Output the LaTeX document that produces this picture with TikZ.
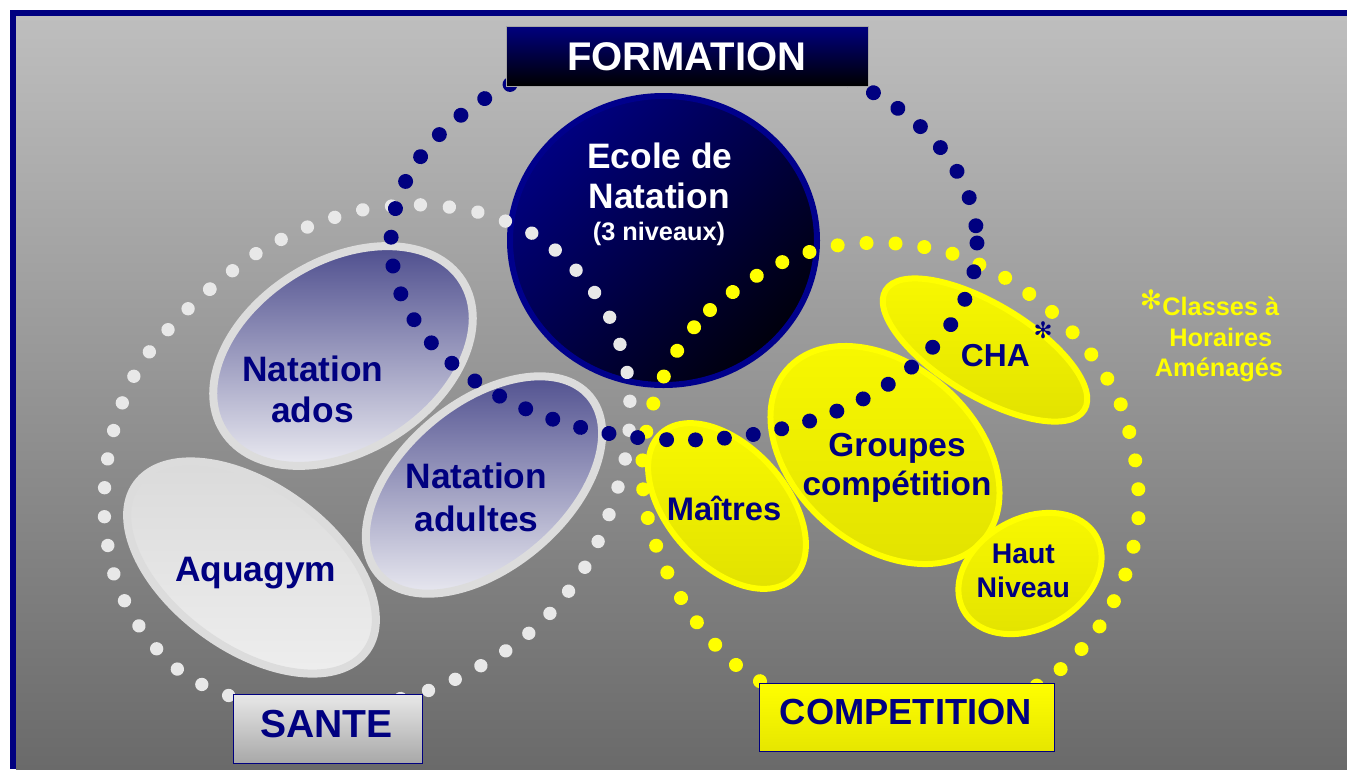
\documentclass[tikz,border=0pt]{standalone}
\usepackage{fontspec}
\setmainfont{Liberation Sans}
\newfontfamily\djv{DejaVu Sans}
\usetikzlibrary{decorations.markings}
\definecolor{navy}{HTML}{000080}
\definecolor{navyb}{HTML}{00008C}
\definecolor{bgtop}{HTML}{BEBEBE}
\definecolor{bgbot}{HTML}{6A6A6A}
\definecolor{wdot}{HTML}{E8E8E8}
\definecolor{ydot}{HTML}{FFFF00}
\definecolor{ytop}{HTML}{F8F800}
\definecolor{ybot}{HTML}{E2E200}
\definecolor{bluetop}{HTML}{48488A}
\definecolor{bluebot}{HTML}{F2F2F6}
\definecolor{ringc}{HTML}{DCDCDC}
\definecolor{aqtop}{HTML}{DADADA}
\definecolor{aqbot}{HTML}{EEEEEE}
\definecolor{santetop}{HTML}{E8E8E8}
\definecolor{santebot}{HTML}{A8A8A8}
\definecolor{compbot}{HTML}{E6E600}
\definecolor{circbot}{HTML}{00000C}
\tikzset{
  dotring/.style 2 args={decoration={markings,
      mark=between positions 0 and 1 step 21.75pt with {\fill[#1] (0,0) circle[radius=#2];}},
      decorate},
  fs/.style={font=\bfseries\fontsize{#1}{#1}\selectfont},
  lbl/.style={anchor=base, inner sep=0pt, text=navy},
  wlbl/.style={anchor=base, inner sep=0pt, text=white},
  ylbl/.style={anchor=base, inner sep=0pt, text=ydot},
  bluell/.style={draw=ringc, line width=6pt, top color=bluetop, bottom color=bluebot},
  aqell/.style={draw=ringc, line width=6pt, top color=aqtop, bottom color=aqbot},
  yell/.style={draw=ydot, line width=4.5pt, top color=ytop, bottom color=ybot},
}
\begin{document}
\begin{tikzpicture}[x=0.75pt,y=-0.75pt]
\useasboundingbox (0,0) rectangle (1347,769);
% background and frame
\fill[navy] (10,10) rectangle (1347,769);
\shade[top color=bgtop, bottom color=bgbot] (16,16) rectangle (1347,769);

% ellipses (SANTE group)
\begin{scope}[shift={(251.5,567.5)},rotate=-36]
  \path[aqell] (0,0) ellipse [x radius=142, y radius=81];
\end{scope}
\begin{scope}[shift={(343,356)},rotate=32]
  \path[bluell] (0,0) ellipse [x radius=141, y radius=95];
\end{scope}
\begin{scope}[shift={(484,485)},rotate=40]
  \path[bluell] (0,0) ellipse [x radius=138, y radius=82];
\end{scope}

% Ecole de Natation circle
\path[draw=navyb, line width=4.5pt, top color=navy, bottom color=circbot, shading angle=45]
  (663.5,240.5) ellipse [x radius=153.5, y radius=144.5];

% yellow ellipses (COMPETITION group)
\begin{scope}[shift={(727,506)},rotate=-48]
  \path[yell] (0,0) ellipse [x radius=98, y radius=59];
\end{scope}
\begin{scope}[shift={(885,455)},rotate=-41]
  \path[yell] (0,0) ellipse [x radius=130, y radius=90];
\end{scope}
\begin{scope}[shift={(985,350)},rotate=-31]
  \path[yell] (0,0) ellipse [x radius=116, y radius=46];
\end{scope}
\begin{scope}[shift={(1030,573.5)},rotate=29]
  \path[yell] (0,0) ellipse [x radius=76, y radius=55];
\end{scope}

% dotted rings
\path[dotring={wdot}{5pt}] plot[smooth cycle] coordinates {
 (175,322) (210,289) (257,253) (310,226) (367,209) (427,205) (485,214) (540,238)
 (585,280) (612,322) (627,372) (630,415) (625,460) (610,512) (588,562) (555,608)
 (510,648) (443,685) (380,703) (316,707) (250,702) (188,677) (146,636) (117,584)
 (105,525) (106,470) (118,415) (140,365)};
\path[dotring={ydot}{5.25pt}] plot[smooth cycle] coordinates {
 (674,356) (710,310) (770,268) (828,247) (888,243) (947,252) (1002,276) (1051,311)
 (1091,354) (1121,405) (1136,465) (1138,523) (1123,581) (1095,633) (1053,675)
 (990,708) (905,720) (820,708) (748,674) (705,633) (672,582) (650,527) (642,470)
 (651,411)};
\path[dotring={navy}{5.6pt}] (684,243) ellipse [x radius=293, y radius=197];

% title boxes
\path[draw=gray!70, line width=0.75pt, top color=navy, bottom color=black] (506,26) rectangle (868,86);
\path[draw=navy, line width=0.75pt, top color=santetop, bottom color=santebot] (233,694) rectangle (422,763);
\path[draw=navy, line width=0.75pt, top color=ydot, bottom color=compbot] (759,683) rectangle (1054,751);

% texts
\node[wlbl, fs=30] (formation) at (686.7,70.6) {FORMATION};
\node[lbl, fs=29.3] (sante) at (326.7,737.3) {SANTE};
\node[lbl, fs=27.2] (competition) at (905.9,724.3) {COMPETITION};

\node[wlbl, fs=26.5] (ecole1) at (660,168.3) {Ecole de};
\node[wlbl, fs=26.5] (ecole2) at (659.3,208.3) {Natation};
\node[wlbl, fs=19] (ecole3) at (659,240) {(3 niveaux)};

\node[lbl, fs=26.5] (ados1) at (312.8,381.7) {Natation};
\node[lbl, fs=26.5] (ados2) at (312.5,422.7) {ados};
\node[lbl, fs=26.5] (adul1) at (476.5,488.5) {Natation};
\node[lbl, fs=26.5] (adul2) at (476.5,531) {adultes};
\node[lbl, fs=26.5] (aqua) at (255.8,581.7) {Aquagym};

\node[lbl, fs=24.5] (maitres) at (724,520) {Maîtres};
\node[lbl, fs=25] (grp1) at (897,456) {Groupes};
\node[lbl, fs=25] (grp2) at (897,495) {compétition};
\node[lbl, fs=23.8] (cha) at (995.3,366.7) {CHA};
\node[text=navy, inner sep=0pt, font=\djv\fontsize{17}{17}\selectfont] (chaast) at (1043,330) {✻};
\node[lbl, fs=21.3] (haut1) at (1023.3,563.3) {Haut};
\node[lbl, fs=21.3] (haut2) at (1023.3,597.3) {Niveau};

\node[text=ydot, inner sep=0pt, font=\djv\fontsize{20}{20}\selectfont] (cmast) at (1151,300) {✻};
\node[ylbl, fs=19] (cm1) at (1220.8,315) {Classes à};
\node[ylbl, fs=19] (cm2) at (1220.8,346) {Horaires};
\node[ylbl, fs=19] (cm3) at (1219,376) {Aménagés};
\end{tikzpicture}
\end{document}
